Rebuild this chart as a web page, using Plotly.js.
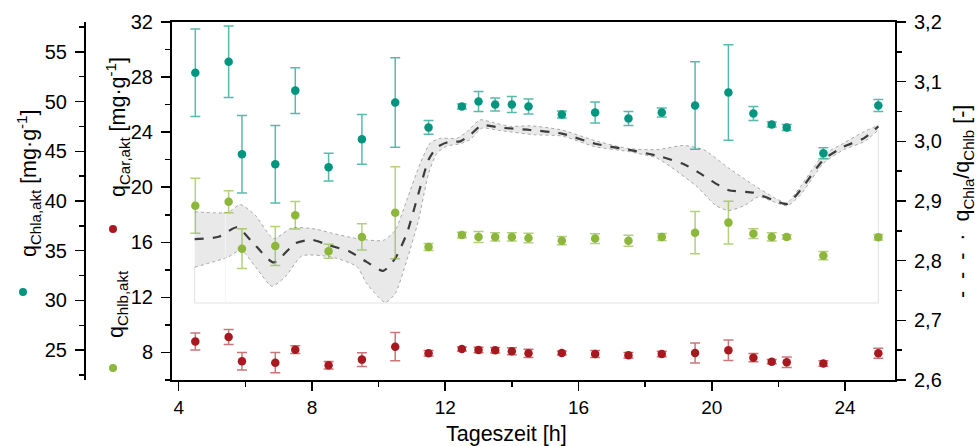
<!DOCTYPE html>
<html>
<head>
<meta charset="utf-8">
<script src="https://cdn.plot.ly/plotly-3.0.1.min.js"></script>
<style>html,body{margin:0;padding:0;background:#fff;}#chart{width:977px;height:446px;}</style>
</head>
<body>
<div id="chart"></div>
<script>
// ---- data ----
const hours = [4.5, 5.5, 5.9, 6.9, 7.5, 8.5, 9.5, 10.5, 11.5, 12.5, 13, 13.5, 14, 14.5, 15.5, 16.5, 17.5, 18.5, 19.5, 20.5, 21.25, 21.8, 22.25, 23.35, 25];

const chla    = [52.9, 54.0, 44.7, 43.7, 51.1, 43.4, 46.2, 49.9, 47.4, 49.5, 50.0, 49.7, 49.7, 49.5, 48.7, 48.9, 48.3, 48.9, 49.6, 50.9, 48.8, 47.7, 47.4, 44.8, 49.6];
const chlaErr = [4.4, 3.6, 3.9, 3.9, 2.3, 1.4, 2.5, 4.5, 0.7, 0.25, 1.0, 0.65, 0.8, 0.75, 0.35, 1.05, 0.7, 0.45, 4.4, 4.8, 0.7, 0.25, 0.3, 0.55, 0.6];

const chlb    = [18.66, 18.95, 15.54, 15.73, 17.96, 15.35, 16.39, 18.15, 15.66, 16.53, 16.39, 16.39, 16.39, 16.31, 16.12, 16.27, 16.12, 16.39, 16.7, 17.43, 16.63, 16.39, 16.39, 15.03, 16.36];
const chlbErr = [2.0, 0.8, 1.45, 1.42, 1.0, 0.5, 0.95, 3.34, 0.25, 0.2, 0.4, 0.3, 0.3, 0.35, 0.3, 0.35, 0.4, 0.25, 1.53, 1.55, 0.35, 0.3, 0.15, 0.3, 0.2];

const car    = [8.79, 9.12, 7.36, 7.26, 8.2, 7.07, 7.48, 8.42, 7.94, 8.25, 8.18, 8.16, 8.09, 7.94, 7.96, 7.89, 7.8, 7.89, 7.96, 8.16, 7.62, 7.33, 7.29, 7.19, 7.94];
const carErr = [0.62, 0.55, 0.63, 0.73, 0.28, 0.28, 0.5, 1.03, 0.2, 0.15, 0.2, 0.2, 0.25, 0.3, 0.15, 0.25, 0.2, 0.2, 0.73, 0.75, 0.3, 0.15, 0.38, 0.2, 0.36];

// ratio qChla/qChlb (smoothed curve) and its band
const ratioX = [4.48, 5.2, 5.75, 6.20, 6.85, 7.50, 8.00, 8.50, 9.14, 9.64, 10.14, 10.50, 10.85, 11.20, 11.50, 11.75, 12.10, 12.45, 12.75, 13.10, 13.65, 14.55, 15.50, 16.50, 17.49, 18.50, 19.15, 19.60, 20.10, 20.51, 21.25, 21.83, 22.26, 22.66, 23.35, 23.96, 24.56, 25.0];
const ratio  = [2.836, 2.840, 2.856, 2.832, 2.797, 2.829, 2.835, 2.826, 2.815, 2.798, 2.783, 2.804, 2.846, 2.913, 2.969, 2.990, 2.999, 3.000, 3.011, 3.027, 3.023, 3.019, 3.013, 2.996, 2.986, 2.974, 2.962, 2.948, 2.930, 2.918, 2.914, 2.902, 2.895, 2.918, 2.969, 2.991, 3.005, 3.025];

const upperX = [4.48, 5.48, 5.85, 6.30, 6.85, 7.40, 8.10, 8.60, 9.35, 10.14, 10.50, 10.85, 11.25, 11.55, 11.85, 12.35, 12.65, 13.05, 13.40, 13.95, 14.55, 15.50, 16.50, 17.49, 18.35, 19.15, 19.76, 20.51, 21.25, 21.96, 22.26, 22.66, 23.35, 23.96, 24.56, 25.0];
const upper  = [2.882, 2.881, 2.894, 2.876, 2.837, 2.855, 2.853, 2.846, 2.837, 2.834, 2.851, 2.902, 2.963, 2.997, 3.005, 3.005, 3.016, 3.036, 3.032, 3.025, 3.026, 3.019, 3.001, 2.988, 2.986, 2.993, 2.986, 2.955, 2.927, 2.903, 2.897, 2.924, 2.977, 2.997, 3.016, 3.027];

const lowerX = [4.48, 5.48, 5.87, 6.30, 6.80, 7.20, 7.70, 8.60, 9.35, 9.64, 10.20, 10.50, 10.85, 11.20, 11.50, 11.75, 12.05, 12.45, 12.75, 13.10, 13.65, 14.70, 15.50, 16.50, 17.49, 18.35, 18.75, 19.56, 20.11, 20.51, 21.00, 21.40, 21.80, 22.26, 22.66, 23.35, 23.96, 24.56, 25.0];
const lower  = [2.789, 2.806, 2.818, 2.790, 2.757, 2.773, 2.808, 2.806, 2.790, 2.762, 2.730, 2.745, 2.801, 2.868, 2.946, 2.980, 2.992, 2.996, 3.003, 3.022, 3.018, 3.011, 3.009, 2.991, 2.983, 2.972, 2.958, 2.924, 2.893, 2.884, 2.893, 2.907, 2.900, 2.892, 2.910, 2.963, 2.986, 2.999, 3.019];

// faint outline below the band
const baseX = [4.48, 4.48, 25.0, 25.0];
const baseY = [2.789, 2.729, 2.729, 3.019];
const base2X = [5.4, 5.4];
const base2Y = [2.88, 2.729];

// ---- styling ----
const TEAL = '#00957f', GREEN = '#8cb73a', RED = '#a8191f';
const FONT = 'Liberation Sans, Arial, sans-serif';

// layout helpers (pixel -> paper)
const W = 977, H = 446, ML = 5, MR = 82, MT = 22, MB = 66;
const PW = W - ML - MR, PH = H - MT - MB;
const px = v => (v - ML) / PW;
const py = v => (H - MB - v) / PH;

function pts(name, y, err, color, errColor, axis) {
  return {
    type: 'scatter', mode: 'markers', name: name, x: hours, y: y, yaxis: axis,
    marker: {color: color, size: 8.5},
    error_y: {type: 'data', array: err, visible: true, color: errColor, thickness: 1.5, width: 5},
    showlegend: false, hoverinfo: 'x+y'
  };
}

const SM = 0.6;
const traces = [
  {type: 'scatter', mode: 'lines', x: baseX, y: baseY, yaxis: 'y',
   line: {color: '#e2e2e2', width: 1}, showlegend: false, hoverinfo: 'skip'},
  {type: 'scatter', mode: 'lines', x: upperX, y: upper, yaxis: 'y',
   line: {color: '#a8a8a8', width: 1, dash: 'dot', shape: 'spline', smoothing: SM},
   showlegend: false, hoverinfo: 'skip'},
  {type: 'scatter', mode: 'lines', x: lowerX, y: lower, yaxis: 'y', fill: 'tonexty',
   fillcolor: 'rgba(215,215,215,0.55)',
   line: {color: '#a8a8a8', width: 1, dash: 'dot', shape: 'spline', smoothing: SM},
   showlegend: false, hoverinfo: 'skip'},
  {type: 'scatter', mode: 'lines', x: base2X, y: base2Y, yaxis: 'y',
   line: {color: '#f4f4f4', width: 1}, showlegend: false, hoverinfo: 'skip'},
  {type: 'scatter', mode: 'lines', x: ratioX, y: ratio, yaxis: 'y',
   line: {color: '#3c3c3c', width: 2.2, dash: '9px,9px', shape: 'spline', smoothing: SM},
   showlegend: false},
  pts('qCar', car, carErr, RED, 'rgba(168,25,31,0.6)', 'y2'),
  pts('qChlb', chlb, chlbErr, GREEN, 'rgba(140,183,58,0.65)', 'y2'),
  pts('qChla', chla, chlaErr, TEAL, 'rgba(0,149,127,0.65)', 'y3')
];

const axisCommon = {
  showgrid: false, zeroline: false, showline: true, linecolor: '#000', linewidth: 2,
  ticks: 'outside', ticklen: 9, tickwidth: 1.5, tickcolor: '#000',
  tickfont: {family: FONT, size: 20, color: '#000'}
};

const TF = 21.5;
const layout = {
  width: W, height: H,
  margin: {l: ML, r: MR, t: MT, b: MB, pad: 0},
  paper_bgcolor: '#fff', plot_bgcolor: '#fff',
  separators: ',.',
  font: {family: FONT, color: '#000'},
  xaxis: Object.assign({}, axisCommon, {
    domain: [px(172), 1], range: [3.8, 25.5], tick0: 4, dtick: 4, mirror: true,
    tickfont: {family: FONT, size: 19, color: '#000'},
    minor: {dtick: 2, ticks: 'outside', ticklen: 5, tickcolor: '#000', tickwidth: 1.5}
  }),
  yaxis: Object.assign({}, axisCommon, {
    side: 'right', anchor: 'x', range: [2.6, 3.2], tick0: 2.6, dtick: 0.1, tickformat: '.1f',
    ticklabelstandoff: 4,
    minor: {dtick: 0.05, ticks: 'outside', ticklen: 5, tickcolor: '#000', tickwidth: 1.5}
  }),
  yaxis2: Object.assign({}, axisCommon, {
    overlaying: 'y', side: 'left', anchor: 'x', range: [6, 32], tick0: 8, dtick: 4,
    ticklabelstandoff: 4,
    minor: {dtick: 2, ticks: 'outside', ticklen: 5, tickcolor: '#000', tickwidth: 1.5}
  }),
  yaxis3: Object.assign({}, axisCommon, {
    overlaying: 'y', side: 'left', anchor: 'free', position: px(85), range: [22, 58], tick0: 0, dtick: 5,
    ticklabelstandoff: 4,
    minor: {dtick: 2.5, ticks: 'outside', ticklen: 5, tickcolor: '#000', tickwidth: 1.5}
  }),
  annotations: [
    {text: 'Tageszeit [h]', xref: 'paper', yref: 'paper', x: px(506), y: py(434),
     xanchor: 'center', yanchor: 'middle', showarrow: false, font: {family: FONT, size: TF, color: '#000'}},
    {text: 'q<sub>Chla,akt</sub> [mg·g<sup>-1</sup>]', textangle: -90, xref: 'paper', yref: 'paper',
     x: px(28), y: py(184), xanchor: 'center', yanchor: 'middle', showarrow: false,
     font: {family: FONT, size: TF, color: '#000'}},
    {text: 'q<sub>Car,akt</sub> [mg·g<sup>-1</sup>]', textangle: -90, xref: 'paper', yref: 'paper',
     x: px(117), y: py(127), xanchor: 'center', yanchor: 'middle', showarrow: false,
     font: {family: FONT, size: TF, color: '#000'}},
    {text: 'q<sub>Chlb,akt</sub>', textangle: -90, xref: 'paper', yref: 'paper',
     x: px(117), y: py(304), xanchor: 'center', yanchor: 'middle', showarrow: false,
     font: {family: FONT, size: TF, color: '#000'}},
    {text: '-  -  -  ·  q<sub>Chla</sub>/q<sub>Chlb</sub> [-]', textangle: -90, xref: 'paper', yref: 'paper',
     x: px(963), y: py(202), xanchor: 'center', yanchor: 'middle', showarrow: false,
     font: {family: FONT, size: TF, color: '#000'}}
  ],
  shapes: [
    {type: 'circle', xref: 'paper', yref: 'paper', xsizemode: 'pixel', ysizemode: 'pixel',
     xanchor: px(23), yanchor: py(292), x0: -4, x1: 4, y0: -4, y1: 4, fillcolor: TEAL, line: {width: 0}},
    {type: 'circle', xref: 'paper', yref: 'paper', xsizemode: 'pixel', ysizemode: 'pixel',
     xanchor: px(113), yanchor: py(229), x0: -4, x1: 4, y0: -4, y1: 4, fillcolor: RED, line: {width: 0}},
    {type: 'circle', xref: 'paper', yref: 'paper', xsizemode: 'pixel', ysizemode: 'pixel',
     xanchor: px(113), yanchor: py(368), x0: -4, x1: 4, y0: -4, y1: 4, fillcolor: GREEN, line: {width: 0}}
  ]
};

Plotly.newPlot('chart', traces, layout, {staticPlot: true, displayModeBar: false});
</script>
</body>
</html>
